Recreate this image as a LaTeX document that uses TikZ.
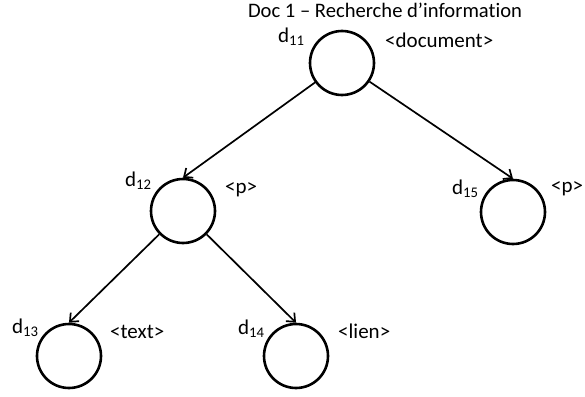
\documentclass[tikz,border=0pt]{standalone}
\usepackage{fontspec}
\setmainfont{Carlito}[Ligatures=NoCommon]
\usetikzlibrary{arrows.meta}
\tikzset{
  treenode/.style={circle,draw=black,line width=2.6pt,minimum size=64pt,inner sep=0pt},
  edge/.style={line width=1.7pt,-{Straight Barb[length=7pt,width=12pt,line width=1.7pt]}},
  lbl/.style={anchor=base west,inner sep=0pt,font=\fontsize{21}{25}\selectfont},
}
\begin{document}
\begin{tikzpicture}[x=1pt,y=-1pt]
\useasboundingbox (0,0) rectangle (585,396);
\node[anchor=base,inner sep=0pt,font=\fontsize{20.6}{25}\selectfont] (title) at (385,18) {Doc 1 – Recherche d’information};
\node[treenode] (n11) at (342,63) {};
\node[treenode] (n12) at (183,211) {};
\node[treenode] (n15) at (513,212) {};
\node[treenode] (n13) at (69,356) {};
\node[treenode] (n14) at (296,356) {};
\node[lbl] (l11) at (278,42) {d\textsubscript{11}};
\node[lbl] (t11) at (385,48) {<document>};
\node[lbl] (l12) at (125,186) {d\textsubscript{12}};
\node[lbl] (t12) at (225,193) {<p>};
\node[lbl] (l15) at (452,194) {d\textsubscript{15}};
\node[lbl] (t15) at (551,192) {<p>};
\node[lbl] (l13) at (12,333) {d\textsubscript{13}};
\node[lbl] (t13) at (110,338) {<text>};
\node[lbl] (l14) at (238,334) {d\textsubscript{14}};
\node[lbl] (t14) at (338,338) {<lien>};
\draw[edge] (n11) -- (n12.north);
\draw[edge] (n11) -- (n15.north);
\draw[edge] (n12) -- (n13.north);
\draw[edge] (n12) -- (n14.north);
\end{tikzpicture}
\end{document}
